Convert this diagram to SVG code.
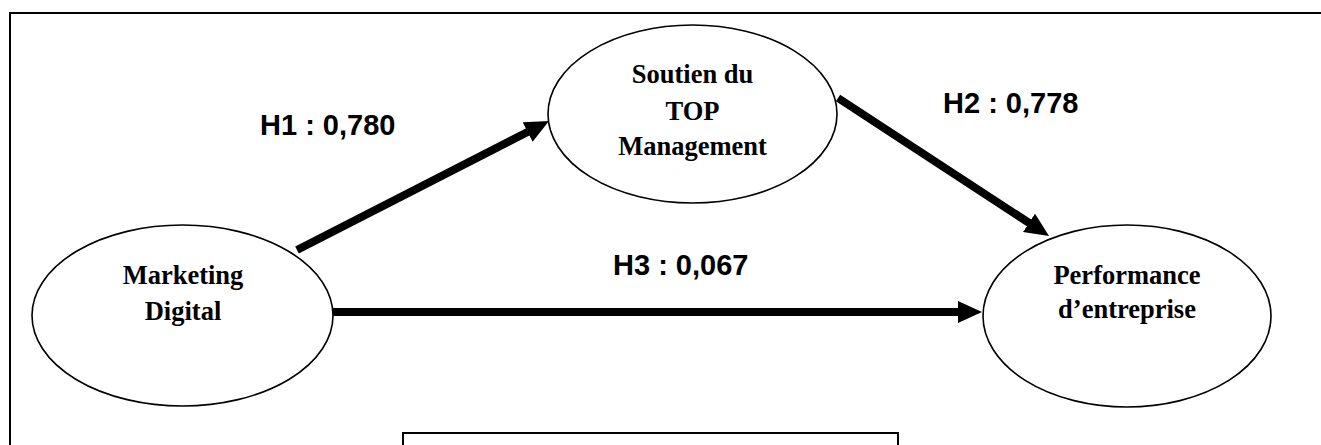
<svg xmlns="http://www.w3.org/2000/svg" width="1321" height="445" viewBox="0 0 1321 445">
  <style>
    .frame { fill: none; stroke: #000; stroke-width: 2; }
    .node ellipse { fill: #fff; stroke: #000; stroke-width: 1.6; }
    .node text { font-family: "Liberation Serif", "Times New Roman", serif; font-weight: bold; font-size: 26.5px; fill: #000; text-anchor: middle; }
    .link { stroke: #000; stroke-width: 8; fill: none; marker-end: url(#head); }
    .coef { font-family: "Liberation Sans", Arial, sans-serif; font-weight: bold; font-size: 29px; fill: #000; }
  </style>
  <defs>
    <marker id="head" markerUnits="userSpaceOnUse" markerWidth="24" markerHeight="22" refX="12" refY="11" orient="auto">
      <path d="M0,0 L24,11 L0,22 z" fill="#000"/>
    </marker>
  </defs>

  <rect width="1321" height="445" fill="#fff"/>

  <!-- outer frame, open past the right and bottom edges -->
  <rect class="frame" x="10" y="13" width="1330" height="460"/>

  <!-- caption box, cut by the bottom edge -->
  <rect class="frame" x="403" y="433" width="495" height="40" stroke-width="1.6"/>

  <g id="connectors">
    <line class="link" x1="297" y1="250" x2="538.3" y2="126.5"/>
    <line class="link" x1="838" y1="98" x2="1039" y2="229.4"/>
    <line class="link" x1="333" y1="312" x2="970" y2="312"/>
  </g>

  <g id="labels">
    <text class="coef" x="260" y="135">H1 : 0,780</text>
    <text class="coef" x="943" y="113">H2 : 0,778</text>
    <text class="coef" x="613" y="275">H3 : 0,067</text>
  </g>

  <g id="marketing-digital" class="node">
    <ellipse cx="182.5" cy="315.5" rx="150.5" ry="90.5"/>
    <text x="183" y="284">Marketing</text>
    <text x="183" y="320">Digital</text>
  </g>

  <g id="soutien-top-management" class="node">
    <ellipse cx="692.5" cy="114" rx="144.5" ry="89"/>
    <text x="692.5" y="83">Soutien du</text>
    <text x="692.5" y="120">TOP</text>
    <text x="692.5" y="155">Management</text>
  </g>

  <g id="performance-entreprise" class="node">
    <ellipse cx="1127" cy="316" rx="144" ry="91"/>
    <text x="1127" y="284">Performance</text>
    <text x="1127" y="318">d’entreprise</text>
  </g>
</svg>
